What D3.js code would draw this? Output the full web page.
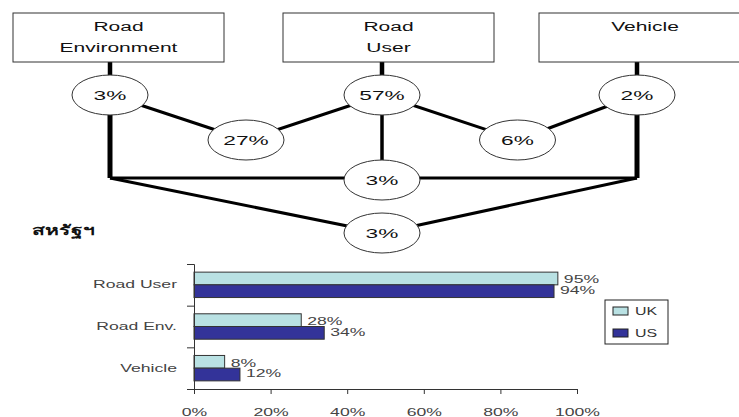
<!DOCTYPE html>
<html>
<head>
<meta charset="utf-8">
<script src="https://cdn.jsdelivr.net/npm/d3@7"></script>
<style>
  body { margin: 0; background: #fff; }
  text { font-family: "Liberation Sans", Arial, sans-serif; }
</style>
</head>
<body>
<div id="chart"></div>
<script>
// diagram: three factor boxes and the overlap percentages
var factors = ["Road Environment", "Road User", "Vehicle"];
var factorLines = [["Road", "Environment"], ["Road", "User"], ["Vehicle"]];
var soleShare = ["3%", "57%", "2%"];        // only one factor
var pairShare = ["27%", "6%"];              // env+user, user+vehicle
var envVehicleShare = "3%";                 // env+vehicle
var allShare = "3%";                        // all three

// bar chart: US study
var title = "สหรัฐฯ";
var categories = ["Road User", "Road Env.", "Vehicle"];
var series = ["UK", "US"];
var ukValues = [0.95, 0.28, 0.08];
var usValues = [0.94, 0.34, 0.12];
var xTicks = [0, 0.2, 0.4, 0.6, 0.8, 1.0];

var W = 739, H = 417;
var SX = 1.68; // the source picture is stretched sideways
var colors = {UK: "#b9e1e3", US: "#333399"};

var svg = d3.select("#chart").append("svg")
    .attr("width", W)
    .attr("height", H);

function stretched(sel, x, y, k) {
  return sel.attr("transform", "translate(" + x + "," + y + ") scale(" + (k || SX) + ",1)");
}

// ---- diagram ----
var colX = d3.scaleOrdinal().domain(factors).range([110, 382, 637]);
var boxLeft = d3.scaleOrdinal().domain(factors).range([13, 283, 539]);
var boxRight = d3.scaleOrdinal().domain(factors).range([224, 494, 745]);
var rowY = {boxTop: 13, boxBottom: 62, sole: 95, pair: 140, join: 178, all: 233};
var midX = function(a, b) { return (colX(factors[a]) + colX(factors[b])) / 2; };

var g = svg.append("g");

// lines under the ellipses
factors.forEach(function(f, i) {
  g.append("line")
    .attr("x1", colX(f)).attr("x2", colX(f))
    .attr("y1", rowY.boxBottom).attr("y2", rowY.sole)
    .attr("stroke", "#000").attr("stroke-width", 4.5);
  g.append("line")
    .attr("x1", colX(f)).attr("x2", colX(f))
    .attr("y1", rowY.sole).attr("y2", rowY.join)
    .attr("stroke", "#000").attr("stroke-width", i == 1 ? 3.5 : 5);
});

var pairX = [midX(0, 1), midX(1, 2) + 8];
pairShare.forEach(function(p, i) {
  [i, i + 1].forEach(function(j) {
    g.append("line")
      .attr("x1", colX(factors[j])).attr("y1", rowY.sole)
      .attr("x2", pairX[i]).attr("y2", rowY.pair)
      .attr("stroke", "#000").attr("stroke-width", 3);
  });
});

g.append("line")
  .attr("x1", colX(factors[0])).attr("x2", colX(factors[2]))
  .attr("y1", rowY.join).attr("y2", rowY.join)
  .attr("stroke", "#000").attr("stroke-width", 3);

[0, 2].forEach(function(j) {
  g.append("line")
    .attr("x1", colX(factors[j])).attr("y1", rowY.join)
    .attr("x2", colX(factors[1])).attr("y2", rowY.all)
    .attr("stroke", "#000").attr("stroke-width", 3);
});

// boxes
factors.forEach(function(f, i) {
  g.append("rect")
    .attr("x", boxLeft(f)).attr("y", rowY.boxTop)
    .attr("width", boxRight(f) - boxLeft(f))
    .attr("height", rowY.boxBottom - rowY.boxTop)
    .attr("fill", "#fff").attr("stroke", "#333").attr("stroke-width", 1);
  var cx = (boxLeft(f) + Math.min(boxRight(f), 740)) / 2;
  if (i == 2) cx = 645;
  factorLines[i].forEach(function(t, k) {
    stretched(g.append("text"), cx, 31 + k * 21)
      .attr("text-anchor", "middle")
      .attr("font-size", 12.5)
      .attr("fill", "#111")
      .text(t);
  });
});

// ellipses
var nodes = [];
soleShare.forEach(function(s, i) { nodes.push({x: colX(factors[i]), y: rowY.sole, t: s}); });
pairShare.forEach(function(s, i) { nodes.push({x: pairX[i], y: rowY.pair, t: s}); });
nodes.push({x: colX(factors[1]), y: rowY.join + 2, t: envVehicleShare});
nodes.push({x: colX(factors[1]), y: rowY.all, t: allShare});

var node = g.selectAll("g.node").data(nodes).enter().append("g")
    .attr("class", "node")
    .attr("transform", function(d) { return "translate(" + d.x + "," + d.y + ")"; });
node.append("ellipse")
    .attr("rx", 38).attr("ry", 20)
    .attr("fill", "#fff").attr("stroke", "#333").attr("stroke-width", 1);
node.append("text")
    .attr("text-anchor", "middle")
    .attr("dy", "0.36em")
    .attr("font-size", 13.5)
    .attr("fill", "#111")
    .attr("transform", "scale(" + SX + ",1)")
    .text(function(d) { return d.t; });

// ---- bar chart ----
stretched(svg.append("text"), 32, 235, 1.5)
  .attr("font-size", 14)
  .attr("font-weight", "bold")
  .attr("fill", "#111")
  .attr("font-family", "'Noto Sans Thai', 'Noto Sans', 'DejaVu Sans', sans-serif")
  .text(title);

var x = d3.scaleLinear().domain([0, 1]).range([194, 577]);
var y = d3.scaleBand().domain(categories).range([264, 389])
    .paddingInner(0.39).paddingOuter(0.195);
var ySub = d3.scaleBand().domain(series).range([0, y.bandwidth()]);
var yEdge = d3.scaleLinear().domain([0, categories.length]).range([264, 389]);

var rows = categories.map(function(c, i) {
  return {cat: c, vals: [{s: "UK", v: ukValues[i]}, {s: "US", v: usValues[i]}]};
});

var grp = svg.selectAll("g.cat").data(rows).enter().append("g")
    .attr("class", "cat")
    .attr("transform", function(d) { return "translate(0," + y(d.cat) + ")"; });

grp.selectAll("rect").data(function(d) { return d.vals; }).enter().append("rect")
    .attr("x", x(0))
    .attr("y", function(d) { return ySub(d.s); })
    .attr("width", function(d) { return x(d.v) - x(0); })
    .attr("height", ySub.bandwidth())
    .attr("fill", function(d) { return colors[d.s]; })
    .attr("stroke", "#333").attr("stroke-width", 1);

grp.selectAll("text.val").data(function(d) { return d.vals; }).enter().append("text")
    .attr("class", "val")
    .attr("font-size", 11)
    .attr("fill", "#444")
    .attr("transform", function(d, i) {
      return "translate(" + (x(d.v) + 6) + "," + (ySub(d.s) + ySub.bandwidth() / 2 + (i == 0 ? 1 : -1)) + ") scale(1.6,1)";
    })
    .attr("dy", "0.36em")
    .text(function(d) { return Math.round(d.v * 100) + "%"; });

// x axis
var xAxis = svg.append("g")
    .attr("transform", "translate(0,389)")
    .call(d3.axisBottom(x).tickValues(xTicks).tickSize(5).tickPadding(14)
      .tickFormat(d3.format(".0%")));
xAxis.selectAll("path, line").attr("stroke", "#333");
xAxis.selectAll("text")
    .attr("font-size", 11)
    .attr("fill", "#444")
    .attr("font-family", "'Liberation Sans', Arial, sans-serif")
    .attr("transform", "scale(1.6,1)");

// y axis: ticks at the band edges, labels at the band middles
var yAxis = svg.append("g")
    .attr("transform", "translate(194,0)")
    .call(d3.axisLeft(yEdge).tickValues([0, 1, 2, 3]).tickSize(7).tickFormat(""));
yAxis.selectAll("path, line").attr("stroke", "#333");

var yLab = svg.append("g")
    .attr("transform", "translate(194,0)")
    .call(d3.axisLeft(y).tickSize(0).tickPadding(17));
yLab.select(".domain").remove();
yLab.selectAll("text")
    .attr("font-size", 11)
    .attr("fill", "#444")
    .attr("font-family", "'Liberation Sans', Arial, sans-serif")
    .attr("x", -17 / 1.6)
    .attr("transform", "scale(1.6,1)");

// legend
var leg = svg.append("g").attr("transform", "translate(605,300)");
leg.append("rect").attr("width", 63).attr("height", 44)
    .attr("fill", "#fff").attr("stroke", "#222").attr("stroke-width", 1);
series.forEach(function(s, i) {
  leg.append("rect")
    .attr("x", 8).attr("y", 7 + i * 22)
    .attr("width", 15).attr("height", 8)
    .attr("fill", colors[s]).attr("stroke", "#222").attr("stroke-width", 1);
  stretched(leg.append("text"), 30, 11 + i * 22, 1.45)
    .attr("dy", "0.36em")
    .attr("font-size", 11)
    .attr("fill", "#333")
    .text(s);
});
</script>
</body>
</html>
